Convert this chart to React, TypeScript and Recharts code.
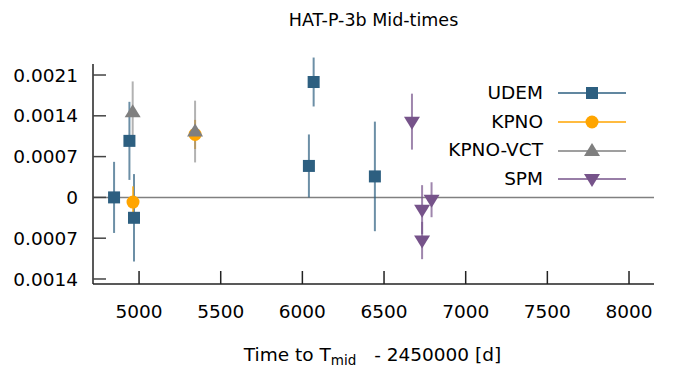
import React from 'react';
import { ScatterChart, Scatter, XAxis, YAxis, ErrorBar, ReferenceLine, Legend, Label } from 'recharts';

const udemT = [4847, 4941, 4969, 6040, 6069, 6444];
const udemV = [0, 0.00097, -0.00035, 0.00054, 0.00198, 0.00036];
const udemE = [0.00061, 0.00067, 0.00075, 0.00054, 0.00042, 0.00094];

const kpnoT = [4963, 5343];
const kpnoV = [-0.00008, 0.00108];
const kpnoE = [0.00027, 0.00025];

const vctT = [4961, 5343];
const vctV = [0.00146, 0.00113];
const vctE = [0.00053, 0.00053];

const spmT = [6671, 6733, 6791, 6733];
const spmV = [0.0013, -0.00021, -0.00004, -0.00074];
const spmE = [0.00048, 0.00042, 0.0003, 0.00032];

const xTicks = [5000, 5500, 6000, 6500, 7000, 7500, 8000];
const yTicks = [-0.0014, -0.0007, 0, 0.0007, 0.0014, 0.0021];

const FONT = '"DejaVu Sans", sans-serif';
const FS = 18.5;

const C_UDEM = '#2d5f80';
const C_KPNO = '#ffa500';
const C_VCT = '#7f7f7f';
const C_SPM = '#76538a';

const rows = (t: number[], v: number[], e: number[]) => t.map((x, i) => ({ t: x, v: v[i], e: e[i] }));
const udem = rows(udemT, udemV, udemE);
const kpno = rows(kpnoT, kpnoV, kpnoE);
const vct = rows(vctT, vctV, vctE);
const spm = rows(spmT, spmV, spmE);

const Square = ({ cx, cy, fill }: any) => <rect x={cx - 6} y={cy - 6} width={12} height={12} fill={fill} />;
const Circle = ({ cx, cy, fill }: any) => <circle cx={cx} cy={cy} r={6.5} fill={fill} />;
const TriUp = ({ cx, cy, fill }: any) => (
  <polygon points={`${cx},${cy - 8} ${cx - 8},${cy + 5} ${cx + 8},${cy + 5}`} fill={fill} />
);
const TriDown = ({ cx, cy, fill }: any) => (
  <polygon points={`${cx},${cy + 8} ${cx - 8},${cy - 5} ${cx + 8},${cy - 5}`} fill={fill} />
);

const legendItems = [
  { name: 'UDEM', color: C_UDEM, Shape: Square },
  { name: 'KPNO', color: C_KPNO, Shape: Circle },
  { name: 'KPNO-VCT', color: C_VCT, Shape: TriUp },
  { name: 'SPM', color: C_SPM, Shape: TriDown },
];

const LegendContent = () => (
  <div style={{ fontFamily: FONT, fontSize: FS, color: '#000' }}>
    {legendItems.map(({ name, color, Shape }) => (
      <div key={name} style={{ display: 'flex', alignItems: 'center', height: 28.7, lineHeight: '28.7px' }}>
        <span style={{ width: 143, textAlign: 'right', whiteSpace: 'nowrap' }}>{name}</span>
        <svg width={84} height={22} style={{ display: 'block' }}>
          <line x1={15} x2={83} y1={11} y2={11} stroke={color} strokeWidth={1.3} />
          <Shape cx={49} cy={11} fill={color} />
        </svg>
      </div>
    ))}
  </div>
);

const YTick = (props: any) => {
  const { x, y, payload } = props;
  const ax = x + 15;
  const v = payload.value;
  const label = Math.abs(v) < 1e-9 ? '0' : Math.abs(v).toFixed(4);
  return (
    <g>
      <line x1={ax} x2={ax + 13} y1={y} y2={y} stroke="#444" strokeWidth={1.5} />
      <text x={x} y={y} dy="0.36em" textAnchor="end" fontFamily={FONT} fontSize={FS} fill="#000">
        {label}
      </text>
    </g>
  );
};

const XTick = (props: any) => {
  const { x, y, payload } = props;
  const ay = y - 21;
  return (
    <g>
      <line x1={x} x2={x} y1={ay} y2={ay - 13} stroke="#222" strokeWidth={1.5} />
      <text x={x} y={y} dy="0.71em" textAnchor="middle" fontFamily={FONT} fontSize={FS} fill="#000">
        {payload.value}
      </text>
    </g>
  );
};

const XLabel = (props: any) => {
  const vb = props.viewBox || { x: 93, y: 284, width: 561 };
  return (
    <text x={vb.x + vb.width / 2 - 1} y={vb.y + 77} textAnchor="middle" fontFamily={FONT} fontSize={FS} fill="#000">
      <tspan>Time to T</tspan>
      <tspan fontSize={13.5} dy={4}>mid</tspan>
      <tspan dy={-4} dx={12}> - 2450000 [d]</tspan>
    </text>
  );
};

export default function App() {
  return (
    <div style={{ position: 'absolute', left: 0, top: 0, width: 678, height: 366, background: '#fff' }}>
      <div
        style={{
          position: 'absolute',
          left: 0,
          top: 8,
          width: 747,
          textAlign: 'center',
          fontFamily: FONT,
          fontSize: 17.5,
          lineHeight: '24px',
          color: '#000',
        }}
      >
        HAT-P-3b Mid-times
      </div>
      <ScatterChart width={678} height={366} margin={{ top: 64, right: 24, bottom: 22, left: 0 }}>
        <XAxis
          dataKey="t"
          type="number"
          domain={[4718, 8153]}
          ticks={xTicks}
          allowDataOverflow
          height={60}
          tickSize={0}
          tickMargin={21}
          tick={<XTick />}
          axisLine={{ stroke: '#222', strokeWidth: 1.5 }}
          tickLine={false}
        >
          <Label content={<XLabel />} />
        </XAxis>
        <YAxis
          dataKey="v"
          type="number"
          domain={[-0.001486, 0.002289]}
          ticks={yTicks}
          allowDataOverflow
          width={93}
          tickSize={0}
          tickMargin={15}
          tick={<YTick />}
          axisLine={{ stroke: '#222', strokeWidth: 1.5 }}
          tickLine={false}
        />
        <ReferenceLine y={0} stroke="#808080" strokeWidth={1.5} />
        <Scatter name="UDEM" data={udem} fill={C_UDEM} shape={Square} isAnimationActive={false}>
          <ErrorBar dataKey="e" direction="y" width={0} stroke={C_UDEM} strokeOpacity={0.7} strokeWidth={2} />
        </Scatter>
        <Scatter name="KPNO" data={kpno} fill={C_KPNO} shape={Circle} isAnimationActive={false}>
          <ErrorBar dataKey="e" direction="y" width={0} stroke={C_KPNO} strokeOpacity={0.7} strokeWidth={2} />
        </Scatter>
        <Scatter name="KPNO-VCT" data={vct} fill={C_VCT} shape={TriUp} isAnimationActive={false}>
          <ErrorBar dataKey="e" direction="y" width={0} stroke={C_VCT} strokeOpacity={0.6} strokeWidth={2} />
        </Scatter>
        <Scatter name="SPM" data={spm} fill={C_SPM} shape={TriDown} isAnimationActive={false}>
          <ErrorBar dataKey="e" direction="y" width={0} stroke={C_SPM} strokeOpacity={0.7} strokeWidth={2} />
        </Scatter>
        <Legend
          layout="vertical"
          align="center"
          verticalAlign="middle"
          content={<LegendContent />}
          wrapperStyle={{ position: 'absolute', left: 400, top: 79, width: 250, height: 116 }}
        />
      </ScatterChart>
    </div>
  );
}
